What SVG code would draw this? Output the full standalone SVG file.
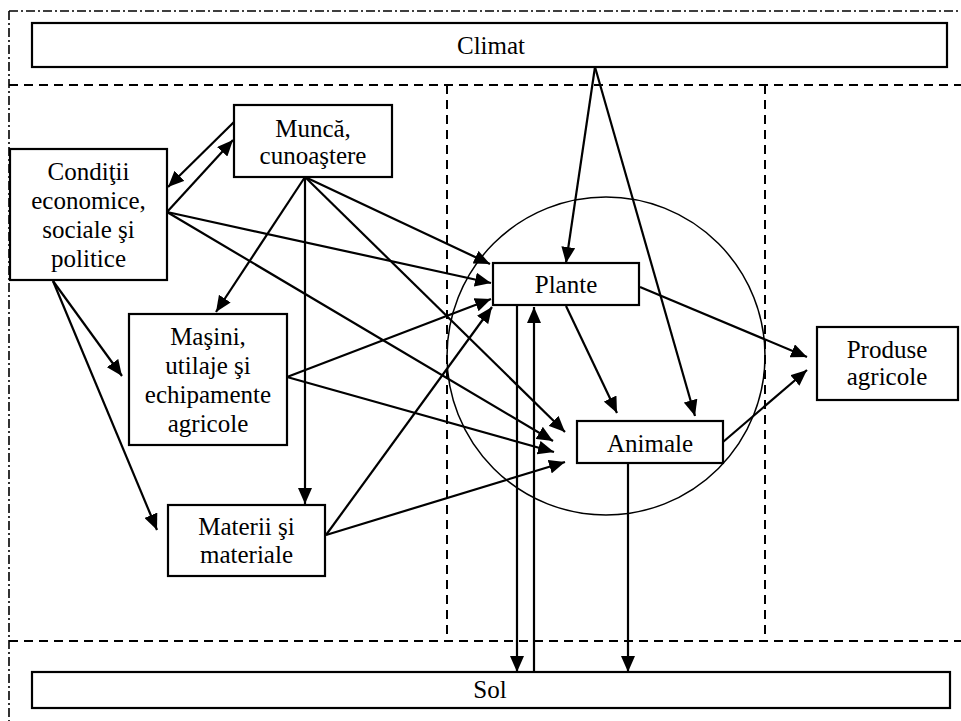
<svg xmlns="http://www.w3.org/2000/svg" width="961" height="721" viewBox="0 0 961 721" font-family="Liberation Serif, Times New Roman, DejaVu Serif, serif">
  <style>
    .box { fill: #fff; stroke: #000; stroke-width: 2.2; }
    .lbl { font-size: 25px; fill: #000; text-anchor: middle; }
    .edge { stroke: #000; stroke-width: 2.2; fill: none; marker-end: url(#arrow); }
    .dash { stroke: #000; stroke-width: 2; fill: none; stroke-dasharray: 9 6; }
    .dashdot { stroke: #000; stroke-width: 1.6; fill: none; stroke-dasharray: 9 3 2 3; }
  </style>
  <defs>
    <marker id="arrow" markerUnits="userSpaceOnUse" markerWidth="16" markerHeight="14" viewBox="0 0 16 14" refX="16" refY="7" orient="auto">
      <path d="M0,0 L16,7 L0,14 z" fill="#000"/>
    </marker>
  </defs>

  <rect width="961" height="721" fill="#fff"/>

  <!-- frame and zone separators -->
  <g id="zones">
    <line class="dashdot" x1="9" y1="11" x2="961" y2="11"/>
    <line class="dashdot" x1="9" y1="11" x2="9" y2="721"/>
    <line class="dash" x1="9" y1="85" x2="961" y2="85"/>
    <line class="dash" x1="9" y1="641" x2="961" y2="641"/>
    <line class="dash" x1="447" y1="85" x2="447" y2="641"/>
    <line class="dash" x1="765" y1="85" x2="765" y2="641"/>
  </g>

  <!-- production core -->
  <circle id="core" cx="606" cy="356" r="159" fill="none" stroke="#000" stroke-width="1.5"/>

  <g id="connectors">
    <!-- Muncă <-> Condiţii -->
    <line class="edge" x1="234" y1="122" x2="168" y2="187"/>
    <line class="edge" x1="167" y1="212" x2="233" y2="140"/>
    <!-- from Condiţii -->
    <line class="edge" x1="167" y1="212" x2="491" y2="283"/>
    <line class="edge" x1="167" y1="212" x2="553" y2="441"/>
    <line class="edge" x1="53" y1="281" x2="122" y2="376"/>
    <line class="edge" x1="53" y1="281" x2="157" y2="530"/>
    <!-- from Muncă -->
    <line class="edge" x1="305" y1="177" x2="216" y2="312"/>
    <line class="edge" x1="305" y1="177" x2="305" y2="504"/>
    <line class="edge" x1="305" y1="177" x2="490" y2="264"/>
    <line class="edge" x1="305" y1="177" x2="565" y2="432"/>
    <!-- from Maşini -->
    <line class="edge" x1="287" y1="377" x2="491" y2="299"/>
    <line class="edge" x1="287" y1="377" x2="554" y2="452"/>
    <!-- from Materii -->
    <line class="edge" x1="326" y1="535" x2="492" y2="307"/>
    <line class="edge" x1="326" y1="535" x2="565" y2="462"/>
    <!-- from Climat -->
    <line class="edge" x1="595" y1="67" x2="566" y2="263"/>
    <line class="edge" x1="595" y1="67" x2="695" y2="416"/>
    <!-- Plante / Animale -->
    <line class="edge" x1="566" y1="306" x2="617" y2="413"/>
    <line class="edge" x1="640" y1="287" x2="807" y2="357"/>
    <line class="edge" x1="723" y1="442" x2="807" y2="370"/>
    <!-- exchanges with Sol -->
    <line class="edge" x1="517" y1="306" x2="517" y2="672"/>
    <line class="edge" x1="534" y1="672" x2="534" y2="307"/>
    <line class="edge" x1="628" y1="464" x2="628" y2="672"/>
  </g>

  <g id="climat">
    <rect class="box" x="32" y="23" width="915" height="44"/>
    <text class="lbl" x="491" y="54">Climat</text>
  </g>

  <g id="sol">
    <rect class="box" x="32" y="672" width="918" height="36"/>
    <text class="lbl" x="490" y="698">Sol</text>
  </g>

  <g id="conditii">
    <rect class="box" x="10" y="149" width="157" height="131"/>
    <text class="lbl" x="88.5" y="180">Condiţii</text>
    <text class="lbl" x="88.5" y="209">economice,</text>
    <text class="lbl" x="88.5" y="238">sociale şi</text>
    <text class="lbl" x="88.5" y="267">politice</text>
  </g>

  <g id="munca">
    <rect class="box" x="234" y="105" width="158" height="72"/>
    <text class="lbl" x="313" y="137">Muncă,</text>
    <text class="lbl" x="313" y="164">cunoaştere</text>
  </g>

  <g id="masini">
    <rect class="box" x="129" y="314" width="158" height="131"/>
    <text class="lbl" x="208" y="345">Maşini,</text>
    <text class="lbl" x="208" y="374">utilaje şi</text>
    <text class="lbl" x="208" y="403">echipamente</text>
    <text class="lbl" x="208" y="432">agricole</text>
  </g>

  <g id="materii">
    <rect class="box" x="168" y="505" width="157" height="71"/>
    <text class="lbl" x="246.5" y="535">Materii şi</text>
    <text class="lbl" x="246.5" y="563">materiale</text>
  </g>

  <g id="plante">
    <rect class="box" x="493" y="263" width="146" height="42"/>
    <text class="lbl" x="566" y="293">Plante</text>
  </g>

  <g id="animale">
    <rect class="box" x="577" y="421" width="146" height="42"/>
    <text class="lbl" x="650" y="452">Animale</text>
  </g>

  <g id="produse">
    <rect class="box" x="817" y="327" width="141" height="73"/>
    <text class="lbl" x="887" y="358">Produse</text>
    <text class="lbl" x="887" y="385">agricole</text>
  </g>
</svg>
